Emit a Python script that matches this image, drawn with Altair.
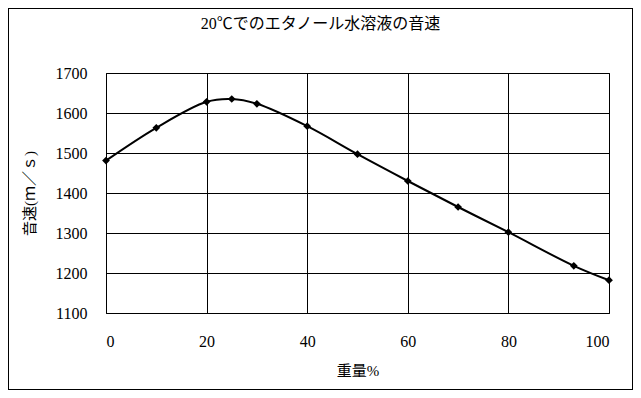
import altair as alt
import pandas as pd

weight = [0, 10, 20, 25, 30, 40, 50, 60, 70, 80, 93, 100]
speed = [1481, 1563, 1628, 1635, 1623, 1567, 1497, 1430, 1365, 1302, 1218, 1182]
x_ticks = [0, 20, 40, 60, 80, 100]
y_ticks = [1100, 1200, 1300, 1400, 1500, 1600, 1700]

df = pd.DataFrame({"w": weight, "v": speed})
FONT = "Liberation Serif, Noto Sans CJK JP"

W, H = 503, 240
PL, PT, PR, PB = 98, 65, 24, 77

x = alt.X("w:Q", scale=alt.Scale(domain=[0, 100], nice=False),
          axis=alt.Axis(values=x_ticks, title="重量%", format="d",
                        titleFontWeight="normal", labelOverlap=False))
y = alt.Y("v:Q", scale=alt.Scale(domain=[1100, 1700], nice=False, zero=False),
          axis=alt.Axis(values=y_ticks, format="d",
                        title="音速(ｍ／ｓ)", titleFontWeight="normal", labelOverlap=False))

base = alt.Chart(df).encode(x=x, y=y)
line = base.mark_line(color="black", strokeWidth=2, interpolate="catmull-rom")
pts = base.mark_point(shape="diamond", filled=True, color="black", size=60, opacity=1)
frame = alt.Chart(df).mark_rect(fill=None, stroke="black", strokeWidth=1, clip=False).encode(
    x=alt.value(-PL + 0.5), x2=alt.value(W + PR - 0.5),
    y=alt.value(-PT + 0.5), y2=alt.value(H + PB - 0.5))

chart = alt.layer(line, pts, frame).properties(
    width=W, height=H,
    autosize=alt.AutoSizeParams(type="none"),
    padding={"left": PL, "top": PT, "right": PR, "bottom": PB},
    title=alt.TitleParams("20℃でのエタノール水溶液の音速", fontSize=16,
                          fontWeight="normal", font=FONT, color="black",
                          anchor="middle", dx=-37, dy=24, offset=0),
).configure_view(stroke="black", strokeWidth=1).configure_axis(
    grid=True, gridColor="black", gridOpacity=1, gridWidth=1,
    domain=False, ticks=False,
    labelFont=FONT, labelFontSize=16, labelColor="black",
    titleFont=FONT, titleFontSize=15, titleColor="black",
).configure_axisX(labelPadding=20, titlePadding=14).configure_axisY(
    labelPadding=19, titlePadding=18)

chart.save("out.html", embed_options={"renderer": "svg", "actions": False})
